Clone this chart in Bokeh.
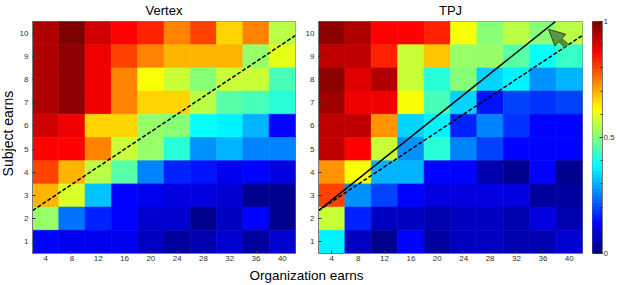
import numpy as np
from bokeh.plotting import figure
from bokeh.models import (Range1d, FixedTicker, LinearAxis, Label, Arrow,
                          NormalHead, ColumnDataSource)
from bokeh.transform import linear_cmap
from bokeh.layouts import row, column
from bokeh.embed import file_html
from bokeh.resources import INLINE

# ---------------- data ----------------
org_earns = [4, 8, 12, 16, 20, 24, 28, 32, 36, 40]
subject_earns = [10, 9, 8, 7, 6, 5, 4, 3, 2, 1]   # rows listed top to bottom

vertex_rows = [
    [0.95, 0.99, 0.92, 0.87, 0.84, 0.74, 0.81, 0.66, 0.74, 0.56],
    [0.94, 0.97, 0.88, 0.81, 0.74, 0.70, 0.70, 0.70, 0.52, 0.60],
    [0.94, 0.97, 0.88, 0.74, 0.62, 0.57, 0.50, 0.57, 0.57, 0.44],
    [0.94, 0.97, 0.88, 0.74, 0.66, 0.66, 0.55, 0.46, 0.44, 0.41],
    [0.92, 0.88, 0.66, 0.66, 0.52, 0.50, 0.39, 0.36, 0.31, 0.13],
    [0.86, 0.86, 0.74, 0.57, 0.53, 0.42, 0.27, 0.30, 0.25, 0.25],
    [0.80, 0.70, 0.56, 0.46, 0.25, 0.17, 0.15, 0.11, 0.13, 0.10],
    [0.70, 0.58, 0.32, 0.13, 0.12, 0.10, 0.10, 0.08, 0.03, 0.03],
    [0.52, 0.24, 0.17, 0.13, 0.09, 0.09, 0.03, 0.07, 0.14, 0.03],
    [0.13, 0.12, 0.12, 0.12, 0.07, 0.04, 0.05, 0.08, 0.04, 0.08],
]

tpj_rows = [
    [0.98, 0.94, 0.87, 0.87, 0.83, 0.62, 0.50, 0.55, 0.50, 0.55],
    [0.93, 0.93, 0.84, 0.57, 0.68, 0.52, 0.52, 0.46, 0.38, 0.43],
    [0.98, 0.90, 0.94, 0.57, 0.42, 0.50, 0.34, 0.37, 0.27, 0.30],
    [0.96, 0.88, 0.88, 0.62, 0.45, 0.33, 0.15, 0.20, 0.18, 0.19],
    [0.93, 0.93, 0.73, 0.33, 0.37, 0.16, 0.26, 0.18, 0.13, 0.14],
    [0.93, 0.87, 0.57, 0.27, 0.42, 0.26, 0.20, 0.14, 0.14, 0.14],
    [0.72, 0.62, 0.30, 0.30, 0.13, 0.13, 0.05, 0.03, 0.13, 0.03],
    [0.80, 0.27, 0.19, 0.13, 0.10, 0.10, 0.10, 0.10, 0.04, 0.04],
    [0.57, 0.17, 0.07, 0.07, 0.05, 0.07, 0.07, 0.05, 0.10, 0.05],
    [0.36, 0.07, 0.03, 0.14, 0.04, 0.07, 0.07, 0.05, 0.05, 0.08],
]

# reference lines (organization earns, subject earns)
fair_line_x = [2, 42]
fair_line_y = [2.35, 9.9]
tpj_line_x = [2, 37.9]
tpj_line_y = [2.35, 10.5]

colorbar_ticks = [0, 0.5, 1]
colorbar_minor = [0.1, 0.2, 0.3, 0.4, 0.6, 0.7, 0.8, 0.9]


# ---------------- palette ----------------
def jet(n):
    out = []
    for i in range(n):
        v = i / (n - 1)
        r = min(max(1.5 - abs(4 * v - 3), 0), 1)
        g = min(max(1.5 - abs(4 * v - 2), 0), 1)
        b = min(max(1.5 - abs(4 * v - 1), 0), 1)
        out.append("#%02x%02x%02x" % (int(r * 255), int(g * 255), int(b * 255)))
    return out


JET = jet(64)
FONT = "Liberation Sans"
TICK_FONT = "Liberation Sans"
FRAME_COL = "#7a7a7a"


def style_axes(p):
    for ax in p.axis:
        ax.major_tick_in = 3
        ax.major_tick_out = 0
        ax.minor_tick_in = 0
        ax.minor_tick_out = 0
        ax.major_tick_line_color = "#333333"
        ax.axis_line_color = FRAME_COL
        ax.major_label_text_font = TICK_FONT
        ax.major_label_text_font_size = "8px"
        ax.major_label_text_color = "#333333"


def text_strip(width, height):
    s = figure(width=width, height=height, x_range=Range1d(0, width),
               y_range=Range1d(height, 0), output_backend="svg",
               toolbar_location=None, x_axis_type=None, y_axis_type=None,
               min_border=0)
    s.outline_line_color = None
    s.grid.visible = False
    return s


def panel(title, rows, width, left_border):
    xs, ys, vs = [], [], []
    for yv, r in zip(subject_earns, rows):
        for xv, v in zip(org_earns, r):
            xs.append(xv)
            ys.append(yv)
            vs.append(v)
    src = ColumnDataSource(dict(x=xs, y=ys, v=vs))
    p = figure(width=width, height=266, x_range=Range1d(2, 42),
               y_range=Range1d(0.5, 10.5), output_backend="svg",
               toolbar_location=None, min_border_left=left_border,
               min_border_right=5, min_border_top=19, min_border_bottom=13,
               title=title)
    cmap = linear_cmap("v", JET, 0, 1)
    p.rect("x", "y", width=4, height=1, source=src, fill_color=cmap,
           line_color=cmap, line_width=0.6)
    p.grid.visible = False
    p.outline_line_color = FRAME_COL
    p.outline_line_width = 1
    p.background_fill_color = "white"
    p.xaxis.ticker = FixedTicker(ticks=org_earns)
    p.yaxis.ticker = FixedTicker(ticks=sorted(subject_earns))
    style_axes(p)
    p.xaxis.major_label_standoff = 2
    p.yaxis.major_label_standoff = 4
    p.title.align = "center"
    p.title.vertical_align = "top"
    p.title.text_font = FONT
    p.title.text_font_size = "13px"
    p.title.text_font_style = "normal"
    p.title.text_color = "black"
    p.title.standoff = 4
    p.title.offset = 0
    return p


# y-axis title strip
ylab = text_strip(16, 266)
ylab.add_layout(Label(x=7, y=128.5, text="Subject earns", angle=np.pi / 2,
                      text_align="center", text_baseline="middle",
                      text_font=FONT, text_font_size="14px",
                      text_color="black"))

left = panel("Vertex", vertex_rows, 284, 16)
left.line(fair_line_x, fair_line_y, line_color="black", line_width=1.5,
          line_dash="4 2")

right = panel("TPJ", tpj_rows, 287, 18)
right.line(fair_line_x, fair_line_y, line_color="black", line_width=1.5,
           line_dash="4 2")
right.line(tpj_line_x, tpj_line_y, line_color="black", line_width=1.5)
right.add_layout(Arrow(x_start=39.6, y_start=9.45, x_end=36.85, y_end=10.16,
                       line_width=6, line_color="#4f8a3a",
                       end=NormalHead(size=16, fill_color="#5a9645",
                                      line_color="#2c4a1e", line_width=1)))

# ---------------- colour bar ----------------
cb = figure(width=30, height=266, x_range=Range1d(0, 1), y_range=Range1d(0, 1),
            output_backend="svg", toolbar_location=None, x_axis_type=None,
            y_axis_type=None, min_border_left=5, min_border_right=13,
            min_border_top=19, min_border_bottom=13)
n = len(JET)
cb_src = ColumnDataSource(dict(bottom=[i / n for i in range(n)],
                               top=[(i + 1) / n for i in range(n)],
                               color=JET))
cb.quad(left=0, right=1, bottom="bottom", top="top", color="color",
        source=cb_src)
cb.grid.visible = False
cb.outline_line_color = FRAME_COL
cb_axis = LinearAxis(ticker=FixedTicker(ticks=colorbar_ticks,
                                        minor_ticks=colorbar_minor),
                     major_label_overrides={0: "0", 0.5: "0.5", 1: "1"})
cb.add_layout(cb_axis, "right")
style_axes(cb)
cb_axis.minor_tick_in = 2
cb_axis.minor_tick_line_color = "#333333"
cb_axis.major_label_standoff = 1

# ---------------- x-axis title strip ----------------
xlab = text_strip(617, 19)
xlab.add_layout(Label(x=306, y=9, text="Organization earns",
                      text_align="center", text_baseline="middle",
                      text_font=FONT, text_font_size="13.5px",
                      text_color="black"))

layout = column(row(ylab, left, right, cb), xlab)

open("out.html", "w").write(file_html(layout, INLINE))
